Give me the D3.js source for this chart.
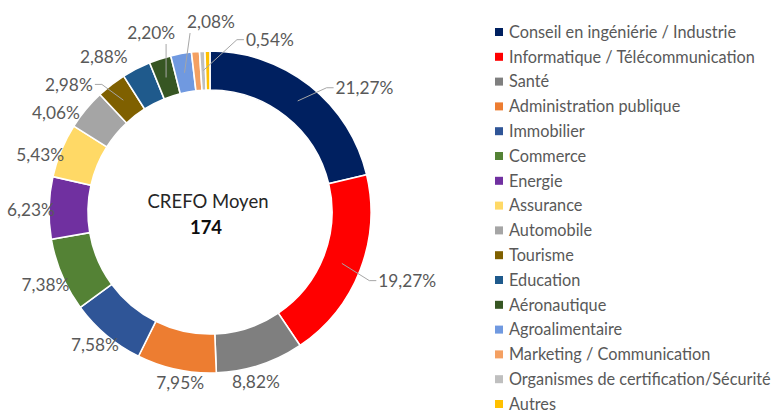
<!DOCTYPE html>
<html>
<head>
<meta charset="utf-8">
<script src="https://cdn.jsdelivr.net/npm/d3@7"></script>
<style>
  body { margin: 0; background: #fff; }
  text { font-family: Lato, "Open Sans", sans-serif; }
</style>
</head>
<body>
<svg width="777" height="412"></svg>
<script>
const categories = [
  'Conseil en ingéniérie / Industrie', 'Informatique / Télécommunication', 'Santé',
  'Administration publique', 'Immobilier', 'Commerce', 'Energie', 'Assurance',
  'Automobile', 'Tourisme', 'Education', 'Aéronautique', 'Agroalimentaire',
  'Marketing / Communication', 'Organismes de certification/Sécurité', 'Autres'
]
const shares = [21.27, 19.27, 8.82, 7.95, 7.58, 7.38, 6.23, 5.43, 4.06, 2.98, 2.88, 2.20, 2.08, 0.80, 0.54, 0.50]
// labels Excel actually shows (null = hidden)
const shownLabels = ['21,27%', '19,27%', '8,82%', '7,95%', '7,58%', '7,38%', '6,23%', '5,43%',
  '4,06%', '2,98%', '2,88%', '2,20%', '2,08%', null, '0,54%', null]
const colors = ['#002060', '#ff0000', '#7f7f7f', '#ed7d31', '#2f5597', '#548235', '#7030a0', '#ffd966',
  '#a5a5a5', '#7f6000', '#1f5a8c', '#375623', '#7099e0', '#f4a062', '#bfbfbf', '#ffc000']
const centerTitle = 'CREFO Moyen'
const centerValue = '174'

// label placement as Excel left it: [angle in degrees from 12 o'clock, distance from centre]
const labelSpots = [[51.3, 198], [109.3, 209], [164.9, 176], [189.9, 174], [220.8, 176], [246.1, 180],
  [270.6, 179], [288.5, 179], [302.7, 183], [312, 190], [325.6, 188], [341.8, 188.5], [0.3, 190],
  null, [19.2, 182], null]

const cx = 210, cy = 212
const rOuter = 161, rInner = 122

const svg = d3.select('svg')
const g = svg.append('g').attr('transform', `translate(${cx},${cy})`)

const pie = d3.pie().sort(null).value(d => d)
const arcs = pie(shares)
const arc = d3.arc().innerRadius(rInner).outerRadius(rOuter)

g.selectAll('path.slice')
  .data(arcs)
  .join('path')
  .attr('class', 'slice')
  .attr('d', arc)
  .attr('fill', (d, i) => colors[i])
  .attr('stroke', '#fff')
  .attr('stroke-width', 1.6)

// centre text
g.append('text')
  .attr('text-anchor', 'middle')
  .attr('x', -2)
  .attr('y', -4)
  .attr('font-size', 18.5)
  .attr('fill', '#262626')
  .text(centerTitle)
g.append('text')
  .attr('text-anchor', 'middle')
  .attr('x', -4)
  .attr('y', 22)
  .attr('font-size', 18.5)
  .attr('font-weight', 'bold')
  .attr('fill', '#0d0d0d')
  .text(centerValue)

// data labels
const labelData = arcs.map((a, i) => ({ a, i, txt: shownLabels[i], spot: labelSpots[i] }))
  .filter(d => d.txt && d.spot)

const leaders = g.append('g')
const labels = g.selectAll('text.lbl')
  .data(labelData)
  .join('text')
  .attr('class', 'lbl')
  .attr('text-anchor', 'middle')
  .attr('font-size', 17.3)
  .attr('fill', '#595959')
  .attr('x', d => d.spot[1] * Math.sin(d.spot[0] * Math.PI / 180))
  .attr('y', d => -d.spot[1] * Math.cos(d.spot[0] * Math.PI / 180))
  .attr('dy', '0.35em')
  .text(d => d.txt)

labels.each(function(d) {
  const b = this.getBBox()
  const mid = (d.a.startAngle + d.a.endAngle) / 2
  const ox = rOuter * Math.sin(mid), oy = -rOuter * Math.cos(mid)
  const gx = Math.max(b.x - ox, 0, ox - (b.x + b.width))
  const gy = Math.max(b.y - oy, 0, oy - (b.y + b.height))
  if (Math.hypot(gx, gy) < 15) return
  const rm = (rInner + rOuter) / 2
  const sx = rm * Math.sin(mid), sy = -rm * Math.cos(mid)
  const lx = b.x + b.width / 2, ly = b.y + b.height / 2
  let pts
  if (Math.abs(sx - lx) > b.width / 2 && Math.abs(sy - ly) < Math.abs(sx - lx)) {
    const ex = sx < lx ? b.x - 2 : b.x + b.width + 2
    const kx = sx < lx ? ex - 7 : ex + 7
    pts = [[sx, sy], [kx, ly], [ex, ly]]
  } else {
    const ex = Math.max(b.x + 3, Math.min(sx, b.x + b.width - 3))
    const ey = sy > ly ? b.y + b.height + 1 : b.y - 1
    pts = [[sx, sy], [ex, ey]]
  }
  leaders.append('path')
    .attr('d', d3.line()(pts))
    .attr('fill', 'none')
    .attr('stroke', '#a6a6a6')
    .attr('stroke-width', 1)
})

// legend
const legend = svg.append('g').attr('transform', 'translate(495,32)')
const rows = legend.selectAll('g')
  .data(categories)
  .join('g')
  .attr('transform', (d, i) => `translate(0,${i * 24.8})`)
rows.append('rect')
  .attr('x', 0).attr('y', -4)
  .attr('width', 8).attr('height', 8)
  .attr('fill', (d, i) => colors[i])
rows.append('text')
  .attr('x', 14)
  .attr('dy', '0.35em')
  .attr('font-size', 16.3)
  .attr('fill', '#595959')
  .text(d => d)
</script>
</body>
</html>
